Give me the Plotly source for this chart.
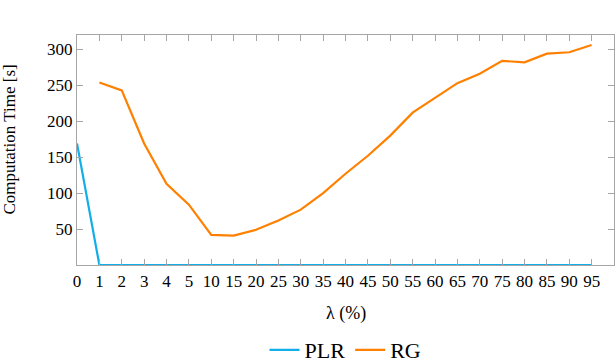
import plotly.graph_objects as go

# category labels of lambda (%), equally spaced on the axis
lam = ["0", "1", "2", "3", "4", "5", "10", "15", "20", "25", "30", "35",
       "40", "45", "50", "55", "60", "65", "70", "75", "80", "85", "90", "95"]

# computation time [s]
plr = [169, 0, 0, 0, 0, 0, 0, 0, 0, 0, 0, 0,
       0, 0, 0, 0, 0, 0, 0, 0, 0, 0, 0, 0]
rg_lam = lam[1:]
rg = [254, 243, 169, 113, 84, 42, 41, 49, 62, 77, 100,
      127, 152, 180, 212, 232, 253, 266, 284, 282, 294, 296, 306]

y_ticks = [50, 100, 150, 200, 250, 300]

FONT = "Liberation Serif"
AXIS_GREY = "#a6a6a6"

fig = go.Figure()
fig.add_trace(go.Scatter(x=lam, y=plr, mode="lines", name="PLR",
                         line=dict(color="#11aeea", width=2.2)))
fig.add_trace(go.Scatter(x=rg_lam, y=rg, mode="lines", name="RG",
                         line=dict(color="#ff8000", width=2.2)))

fig.update_layout(
    width=616, height=364,
    margin=dict(l=77, r=2, t=35, b=99, autoexpand=False),
    paper_bgcolor="white", plot_bgcolor="white",
    font=dict(family=FONT, color="black", size=17),
    showlegend=True,
    legend=dict(orientation="h", x=0.5, xanchor="center", y=-0.37, yanchor="middle",
                font=dict(size=22), tracegroupgap=0),
)

# axis titles as annotations so they sit where the reference has them
fig.add_annotation(text="λ (%)", xref="paper", yref="paper", x=0.5, y=-0.209,
                   xanchor="center", yanchor="middle", showarrow=False,
                   font=dict(size=18))
fig.add_annotation(text="Computation Time [s]", xref="paper", yref="paper",
                   x=-0.125, y=0.545, xanchor="center", yanchor="middle",
                   textangle=-90, showarrow=False, font=dict(size=17))

fig.update_xaxes(
    type="category", categoryorder="array", categoryarray=lam,
    range=[0, 24], automargin=False,
    showline=True, linecolor=AXIS_GREY, linewidth=1.3, mirror="ticks",
    ticks="inside", ticklen=6, tickcolor=AXIS_GREY, tickwidth=1,
    showgrid=False, zeroline=False,
    tickfont=dict(size=17),
)
fig.update_yaxes(
    range=[0, 320], tickvals=y_ticks, automargin=False,
    showline=True, linecolor=AXIS_GREY, linewidth=1.3, mirror="ticks",
    ticks="inside", ticklen=6, tickcolor=AXIS_GREY, tickwidth=1,
    showgrid=False, zeroline=False,
    tickfont=dict(size=17),
)

# drop the page's default body margin so the figure fills the window
fig.write_html("out.html", config={"displayModeBar": False},
               post_script="document.body.style.margin='0';")
